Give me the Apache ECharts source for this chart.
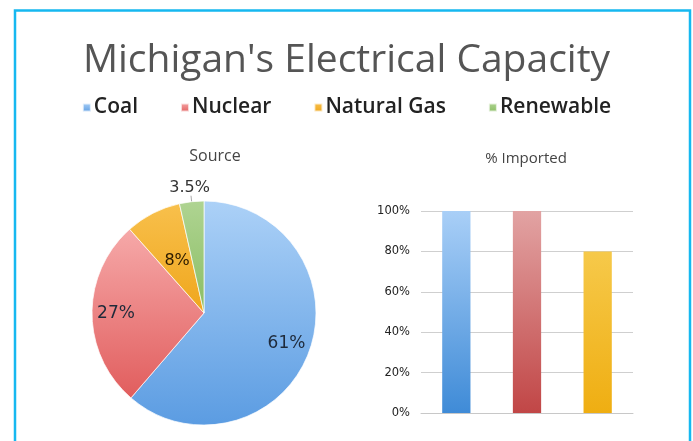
<!DOCTYPE html>
<html>
<head>
<meta charset="utf-8">
<script src="https://cdn.jsdelivr.net/npm/echarts@6/dist/echarts.min.js"></script>
<style>
  html, body { margin: 0; padding: 0; background: #fff; }
  #main { width: 693px; height: 441px; }
</style>
</head>
<body>
<div id="main"></div>
<script>
var sources = ['Coal', 'Nuclear', 'Natural Gas', 'Renewable'];
var shares = [61, 27, 8, 3.5];
var shareLabels = ['61%', '27%', '8%', '3.5%'];
var importedPct = [100, 100, 80];

// top / bottom colours for the soft vertical gradients
var topColors = ['#acd1f7', '#f6a9a9', '#f8c04c', '#afd492'];
var bottomColors = ['#5b9ce2', '#e15d5d', '#efa61c', '#8abd63'];
var barTop = ['#a9cff7', '#e2a3a3', '#f6c94a'];
var barBottom = ['#3f8bd7', '#c14646', '#efae12'];

function grad(a, b) {
  return new echarts.graphic.LinearGradient(0, 0, 0, 1, [
    { offset: 0, color: a }, { offset: 1, color: b }
  ]);
}

var myChart = echarts.init(document.getElementById('main'));

var pieData = sources.map(function (s, i) {
  var item = {
    name: s,
    value: shares[i],
    itemStyle: { color: grad(topColors[i], bottomColors[i]) },
    label: { show: false }
  };
  if (i === 2) {
    item.label = { show: true, position: 'inside', color: '#2a1a00' };
  }
  if (i === 3) {
    item.label = { show: true, position: 'outside', color: '#333' };
    item.labelLine = { show: true, length: 6, length2: 0, lineStyle: { color: '#aaa', width: 1 } };
  }
  return item;
});

// transparent ring used only to place the big inside labels further out
var labelRing = sources.map(function (s, i) {
  return {
    name: s,
    value: shares[i],
    label: { show: i < 2 }
  };
});

var option = {
  backgroundColor: '#fff',
  animation: false,
  graphic: [{
    type: 'rect',
    shape: { x: 15, y: 10.5, width: 675, height: 460 },
    style: { fill: null, stroke: '#16b8f0', lineWidth: 2.5 },
    silent: true
  }],
  title: [{
    text: "Michigan's Electrical Capacity",
    left: 'center',
    top: 36,
    textStyle: { fontFamily: 'Open Sans', fontWeight: 'normal', fontSize: 39, color: '#555' }
  }, {
    text: 'Source',
    left: 210, top: 143,
    textAlign: 'center',
    textStyle: { fontFamily: 'Open Sans', fontWeight: 'normal', fontSize: 16, color: '#444' }
  }, {
    text: '% Imported',
    left: 521, top: 146,
    textAlign: 'center',
    textStyle: { fontFamily: 'Open Sans', fontWeight: 'normal', fontSize: 15, color: '#444' }
  }],
  legend: {
    data: sources,
    left: 'center',
    top: 92,
    icon: 'rect',
    itemWidth: 8,
    itemHeight: 8,
    itemGap: 42,
    selectedMode: false,
    textStyle: { fontFamily: 'Open Sans', fontWeight: 600, fontSize: 21, color: '#222', padding: [0, 0, 0, -2] }
  },
  grid: { left: 421, right: 60, top: 211, bottom: 28 },
  xAxis: {
    type: 'category',
    data: sources.slice(0, 3),
    axisLabel: { show: false },
    axisTick: { show: false },
    axisLine: { lineStyle: { color: '#c8c8c8' } }
  },
  yAxis: {
    type: 'value',
    min: 0, max: 100, interval: 20,
    axisLabel: { formatter: '{value}%', fontFamily: 'DejaVu Sans', fontSize: 11.5, color: '#222', margin: 11 },
    axisLine: { show: false },
    axisTick: { show: false },
    splitLine: { lineStyle: { color: '#cfcfcf' } }
  },
  series: [{
    name: 'Source',
    type: 'pie',
    center: [204, 313],
    radius: 112,
    startAngle: 90,
    clockwise: true,
    silent: true,
    data: pieData,
    itemStyle: { borderColor: 'rgba(255,255,255,0.7)', borderWidth: 1 },
    label: {
      formatter: function (p) { return shareLabels[p.dataIndex]; },
      fontFamily: 'DejaVu Sans', fontSize: 16, color: '#222'
    },
    labelLayout: function (p) {
      // lift the small-slice label so it sits centred over its leader line
      if (p.dataIndex === 3) {
        return { dx: 24, dy: -8 };
      }
    }
  }, {
    name: 'labels',
    type: 'pie',
    center: [204, 313],
    radius: [58, 112],
    startAngle: 90,
    clockwise: true,
    silent: true,
    legendHoverLink: false,
    data: labelRing,
    itemStyle: { color: 'rgba(0,0,0,0)' },
    label: {
      position: 'inside',
      formatter: function (p) { return shareLabels[p.dataIndex]; },
      fontFamily: 'DejaVu Sans', fontSize: 17, color: '#1e2a3a'
    },
    labelLine: { show: false }
  }, {
    name: '% Imported',
    type: 'bar',
    barWidth: '40%',
    silent: true,
    data: importedPct.map(function (v, i) {
      return { value: v, itemStyle: { color: grad(barTop[i], barBottom[i]) } };
    })
  }]
};

myChart.setOption(option);
</script>
</body>
</html>
